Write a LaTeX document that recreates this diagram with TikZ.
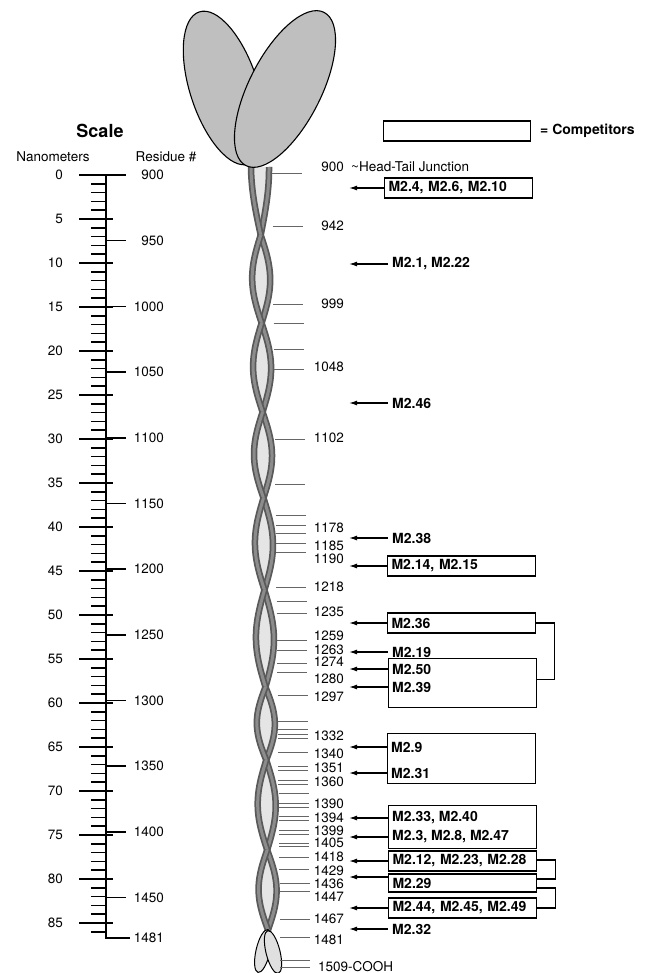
\documentclass[tikz,border=0pt]{standalone}
\usepackage{fontspec}
\setmainfont{TeX Gyre Heros}
\usetikzlibrary{arrows.meta,positioning}

\begin{document}
\begin{tikzpicture}[x=1pt,y=-1pt,>={Latex[length=8pt,width=5pt]},
	declare function={cx(\t)=260+(\t-167)*8/763;},
	every node/.style={inner sep=0pt,font=\fontsize{13.5}{15}\selectfont},
	caixa/.style={draw,line width=1.1pt,anchor=west,minimum height=20pt,text width=140pt,inner xsep=4pt,inner ysep=0pt,font=\fontsize{14}{16}\selectfont\bfseries},
	rotulo/.style={anchor=west,inner xsep=4pt,font=\fontsize{14}{16}\selectfont\bfseries},
	seta/.style={->,line width=1.3pt},
	fita/.style={line width=6.5pt,black!65},
	fitaclara/.style={line width=3pt,black!45},
	fio/.style={line width=1pt,black!60},
	tique/.style={line width=1.6pt}]
	\useasboundingbox (0,0) rectangle (652,973);
	%helice
	\foreach \ya/\yb/\fa in {167/235/90,235/323/0,323/412/0,412/498/0,498/590/0,590/687/0,687/760/0,760/850/0,850/930/0}{
		\fill[black!10] plot[variable=\t,domain=\ya:\yb,samples=25,smooth] ({cx(\t)+9*sin(\fa+(180-\fa)*((\t-\ya)/(\yb-\ya)))},\t)
			-- plot[variable=\t,domain=\yb:\ya,samples=25,smooth] ({cx(\t)-9*sin(\fa+(180-\fa)*((\t-\ya)/(\yb-\ya)))},\t) -- cycle;
		\foreach \s in {1,-1}{
			\draw[fita] plot[variable=\t,domain=\ya:\yb,samples=25,smooth] ({cx(\t)+\s*9*sin(\fa+(180-\fa)*((\t-\ya)/(\yb-\ya)))},\t);
			\draw[fitaclara] plot[variable=\t,domain=\ya:\yb,samples=25,smooth] ({cx(\t)+\s*9*sin(\fa+(180-\fa)*((\t-\ya)/(\yb-\ya)))},\t);
		}
	}
	%cauda
	\draw[line width=1pt,fill=black!12,rotate around={-13:(263,951)}] (263,951) ellipse [x radius=7,y radius=22];
	\draw[line width=1pt,fill=black!12,rotate around={14:(273,952)}] (273,952) ellipse [x radius=7,y radius=22];
	%cabeca
	\draw[line width=1.1pt,fill=black!25,rotate around={18:(224,88)}] (224,88) ellipse [x radius=34,y radius=80];
	\draw[line width=1.1pt,fill=black!25,rotate around={-27:(285,89)}] (285,89) ellipse [x radius=36,y radius=86];
	%residuos na helice
	\foreach \y in {174,227,304,323,349,369,439,484,515,525,533,543,552,587,601,613,640,650,663,672,695,721,729,734,738,752,766,770,780,784,793,803,807,816,820,830,834,843,846,857,869,883,891,919,937,960,967}
		\draw[fio] ({cx(\y)+12},\y) -- ({cx(\y)+42},\y);
	\foreach \y/\r in {226/942,304/999,367/1048,438/1102,528/1178,546/1185,559/1190,587/1218,612/1235,636/1259,650/1263,662/1274,679/1280,697/1297,736/1332,754/1340,768/1351,782/1360,804/1390,818/1394,831/1399,843/1405,857/1418,871/1429,884/1436,897/1447,919/1467,940/1481}
		\node[anchor=east] (r\r) at (344,\y) {\r};
	\node[anchor=east] (r900) at (344,167) {900};
	\node[right=7pt of r900] (jct) {\textasciitilde Head-Tail Junction};
	\node[anchor=west] (r1509) at (318,967) {1509-COOH};
	%escala
	\node[font=\fontsize{18}{20}\selectfont\bfseries] (escala) at (100,131) {Scale};
	\node (nano) at (53,157) {Nanometers};
	\node (resid) at (166,157) {Residue \#};
	\draw[line width=1.5pt] (106,175) -- (106,938) -- (130,938);
	\foreach \n in {1,...,86}
		\draw[tique] (91,{175+8.8*\n}) -- (106,{175+8.8*\n});
	\foreach \n in {0,5,...,85}{
		\draw[tique] (79,{175+8.8*\n}) -- (113,{175+8.8*\n});
		\node[anchor=east] (nm\n) at (63,{175+8.8*\n}) {\n};
	}
	\foreach \r in {900,950,...,1450}{
		\draw[tique] (106,{175+1.3135*(\r-900)}) -- (126,{175+1.3135*(\r-900)});
		\node[anchor=east] (s\r) at (164,{175+1.3135*(\r-900)}) {\r};
	}
	\node[anchor=east] (s1481) at (164,938) {1481};
	%legenda
	\node[caixa,text width=139pt] (leg) at (383,131) {};
	\node[rotulo] (comp) at (536,131) {= Competitors};
	%competidores
	\node[caixa] (b4) at (384,188) {M2.4, M2.6, M2.10};
	\node[rotulo] (m1) at (388,264) {M2.1, M2.22};
	\node[rotulo] (m46) at (388,403) {M2.46};
	\node[rotulo] (m38) at (388,538) {M2.38};
	\node[caixa] (b14) at (387,566) {M2.14, M2.15};
	\node[caixa] (b36) at (387,623) {M2.36};
	\node[rotulo] (m19) at (388,652) {M2.19};
	\node[caixa,minimum height=49pt,anchor=north west] (b50) at (388,658) {};
	\node[rotulo] (m50) at (388,669) {M2.50};
	\node[rotulo] (m39) at (388,687) {M2.39};
	\node[caixa,minimum height=50pt,anchor=north west] (b9) at (387,733) {};
	\node[rotulo] (m9) at (387,747) {M2.9};
	\node[rotulo] (m31) at (387,773) {M2.31};
	\node[caixa,minimum height=43pt,anchor=north west] (b33) at (388,805) {};
	\node[rotulo] (m33) at (388,818) {M2.33, M2.40};
	\node[rotulo] (m3) at (388,837) {M2.3, M2.8, M2.47};
	\node[caixa] (b12) at (388,861) {M2.12, M2.23, M2.28};
	\node[caixa,minimum height=18pt] (b29) at (388,883) {M2.29};
	\node[caixa] (b44) at (388,908) {M2.44, M2.45, M2.49};
	\node[rotulo] (m32) at (388,929) {M2.32};
	%setas
	\coordinate (tip) at (349,0);
	\foreach \n in {b4,m1,m46,m38,b14,b36,m19,m50,m39,m9,m31,m33,m3,b12,b44,m32}{
		\coordinate (p\n) at (\n.west -| tip);
		\draw[seta] (\n.west) -- (p\n);
	}
	\coordinate (pb29) at ([yshift=6pt]b29.west -| tip);
	\draw[seta] ([yshift=6pt]b29.west) -- (pb29);
	%chaves
	\draw[line width=1.1pt] (b36.east) -- ++(18,0) |- ([yshift=4pt]b50.east);
	\draw[line width=1.1pt] ([yshift=1pt]b12.east) -- ++(18,0) |- ([yshift=4pt]b29.east);
	\draw[line width=1.1pt] ([yshift=-5pt]b29.east) -- ++(18,0) |- (b44.east);
\end{tikzpicture}
\end{document}
